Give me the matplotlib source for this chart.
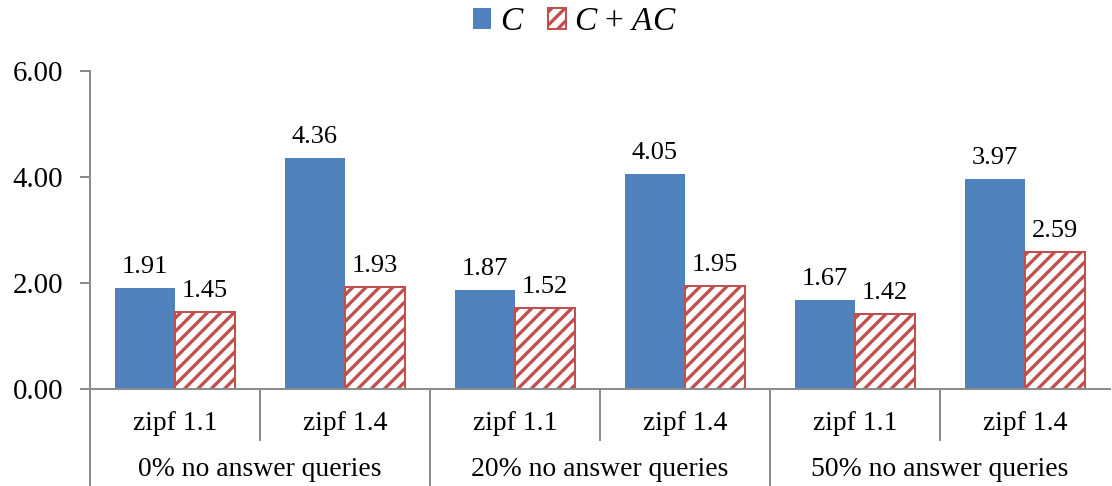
import matplotlib
matplotlib.use("Agg")
import matplotlib.pyplot as plt
from matplotlib.lines import Line2D
from matplotlib.patches import Patch

categories = ["zipf 1.1", "zipf 1.4", "zipf 1.1", "zipf 1.4", "zipf 1.1", "zipf 1.4"]
groups = ["0% no answer queries", "20% no answer queries", "50% no answer queries"]
c_vals = [1.91, 4.36, 1.87, 4.05, 1.67, 3.97]
cac_vals = [1.45, 1.93, 1.52, 1.95, 1.42, 2.59]
yticks = [0, 2, 4, 6]

plt.rcParams['font.family'] = ['Liberation Serif', 'DejaVu Serif']
plt.rcParams['mathtext.fontset'] = 'custom'
plt.rcParams['mathtext.rm'] = 'Liberation Serif'
plt.rcParams['mathtext.it'] = 'Liberation Serif:italic'
plt.rcParams['hatch.linewidth'] = 2.0
plt.rcParams['hatch.color'] = '#C0504D'

DPI = 120
W, H = 1112, 486
fig = plt.figure(figsize=(W / DPI, H / DPI), dpi=DPI)
L, R, B, T = 90, 1110, 389, 71
ax = fig.add_axes([L / W, 1 - B / H, (R - L) / W, (B - T) / H])

blue = '#4F81BD'
red = '#C0504D'
gray = '#8C8C8C'
w = 0.355
fs_val = 15.8
fs_tick = 17.3
fs_x = 16.6

for i in range(len(categories)):
    cx = i + 0.5
    ax.bar(cx - w / 2, c_vals[i], width=w, color=blue, edgecolor='none')
    ax.bar(cx + w / 2, cac_vals[i], width=w, facecolor='white', edgecolor=red,
           hatch='///', linewidth=1.2)
    ax.annotate(f"{c_vals[i]:.2f}", (cx - w / 2, c_vals[i]), xytext=(0, 6),
                textcoords='offset points', ha='center', va='bottom', fontsize=fs_val)
    ax.annotate(f"{cac_vals[i]:.2f}", (cx + w / 2, cac_vals[i]), xytext=(0, 6),
                textcoords='offset points', ha='center', va='bottom', fontsize=fs_val)

ax.set_xlim(0, len(categories))
ax.set_ylim(0, 6)
ax.set_yticks(yticks)
ax.set_yticklabels([f"{v:.2f}" for v in yticks], fontsize=fs_tick)
ax.set_xticks([])
for s in ['top', 'right']:
    ax.spines[s].set_visible(False)
for s in ['left', 'bottom']:
    ax.spines[s].set_color(gray)
    ax.spines[s].set_linewidth(1.2)
ax.tick_params(axis='y', direction='out', length=6, width=1.2, color=gray, pad=10)

axh = B - T
def yfrac(py):
    return (B - py) / axh

for i in range(0, len(categories)):
    y1 = yfrac(H) if i % 2 == 0 else yfrac(440)
    ax.add_line(Line2D([i, i], [0, y1], transform=ax.get_xaxis_transform(),
                       color=gray, lw=1.2, clip_on=False))

for i, lab in enumerate(categories):
    ax.text(i + 0.5, yfrac(424), lab, transform=ax.get_xaxis_transform(),
            ha='center', va='center', fontsize=fs_x)
for g, lab in enumerate(groups):
    ax.text(2 * g + 1, yfrac(469), lab, transform=ax.get_xaxis_transform(),
            ha='center', va='center', fontsize=fs_x)

handles = [Patch(facecolor=blue, edgecolor='none'),
           Patch(facecolor='white', edgecolor=red, hatch='///', linewidth=1.2)]
fig.legend(handles, ['$C$', '$C$ + $AC$'], loc='center', bbox_to_anchor=(575 / W, 1 - 22 / H),
           ncol=2, frameon=False, fontsize=20, handlelength=0.55, handleheight=0.55,
           handletextpad=0.25, columnspacing=0.7)

fig.savefig('out.png', dpi=DPI)
